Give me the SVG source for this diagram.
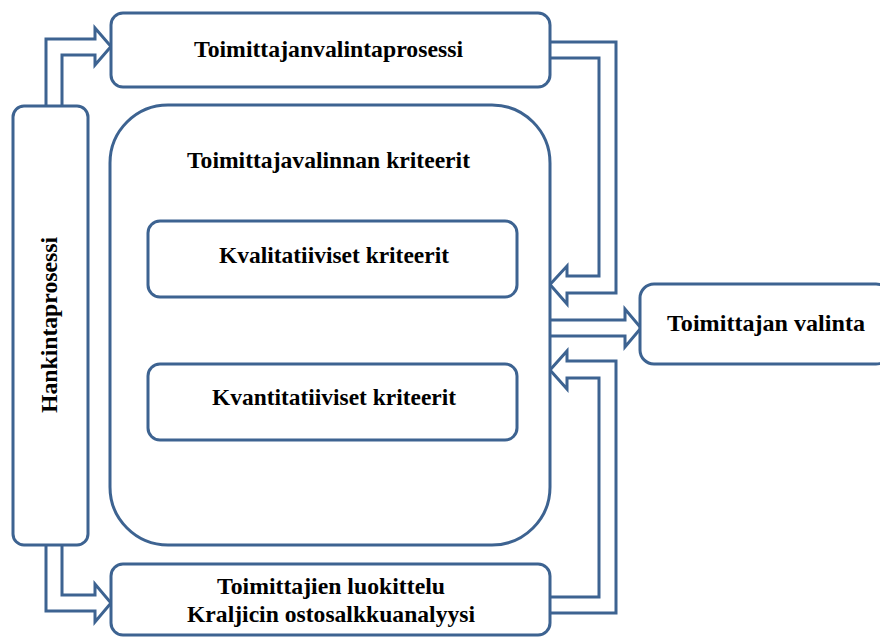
<svg xmlns="http://www.w3.org/2000/svg" width="880" height="637" viewBox="0 0 880 637">
<style>
.box{fill:#fff;stroke:#3d6391;stroke-width:3}
.arr{fill:#fff;stroke:#3d6391;stroke-width:3;stroke-linejoin:miter}
.t{font-family:"Liberation Serif","Times New Roman",serif;font-weight:bold;font-size:23px;fill:#000;text-anchor:middle}
</style>
<rect width="880" height="637" fill="#fff"/>
<g id="connectors">
<path class="arr" d="M46,106 V39 H95 V28 L111,46.5 L95,65 V55 H62 V106"/>
<path class="arr" d="M46,545 V611 H95 V622 L111,603 L95,584 V595 H62 V545"/>
<path class="arr" d="M550,42 H616 V293 H567 V304 L550,284.5 L567,266 V276 H599 V58 H550"/>
<path class="arr" d="M550,613 H616 V361 H567 V351 L550,370 L567,389 V378 H599 V597 H550"/>
<path class="arr" d="M550,320 H625 V309 L641,328 L625,347 V336 H550"/>
</g>
<g id="kriteerit">
<rect class="box" x="110" y="105" width="440" height="440" rx="58" ry="58"/>
<text class="t" x="328.5" y="168" textLength="283" lengthAdjust="spacingAndGlyphs">Toimittajavalinnan kriteerit</text>
</g>
<g id="kvalitatiiviset">
<rect class="box" x="148" y="221" width="369" height="76" rx="12" ry="12"/>
<text class="t" x="334" y="263" textLength="230" lengthAdjust="spacingAndGlyphs">Kvalitatiiviset kriteerit</text>
</g>
<g id="kvantitatiiviset">
<rect class="box" x="148" y="364" width="369" height="76" rx="12" ry="12"/>
<text class="t" x="334" y="405" textLength="244" lengthAdjust="spacingAndGlyphs">Kvantitatiiviset kriteerit</text>
</g>
<g id="toimittajanvalintaprosessi">
<rect class="box" x="111" y="13" width="439" height="74" rx="12" ry="12"/>
<text class="t" x="328.5" y="57" textLength="269" lengthAdjust="spacingAndGlyphs">Toimittajanvalintaprosessi</text>
</g>
<g id="luokittelu">
<rect class="box" x="111" y="564" width="439" height="71" rx="12" ry="12"/>
<text class="t" x="331" y="594" textLength="228" lengthAdjust="spacingAndGlyphs">Toimittajien luokittelu</text>
<text class="t" x="331" y="622" textLength="288" lengthAdjust="spacingAndGlyphs">Kraljicin ostosalkkuanalyysi</text>
</g>
<g id="hankintaprosessi">
<rect class="box" x="13" y="106" width="75" height="439" rx="11" ry="11"/>
<text class="t" transform="translate(57,325) rotate(-90)" x="0" y="0" textLength="176" lengthAdjust="spacingAndGlyphs">Hankintaprosessi</text>
</g>
<g id="valinta">
<rect class="box" x="640" y="284" width="250" height="80" rx="14" ry="14"/>
<text class="t" x="766" y="331" textLength="198" lengthAdjust="spacingAndGlyphs">Toimittajan valinta</text>
</g>
</svg>
